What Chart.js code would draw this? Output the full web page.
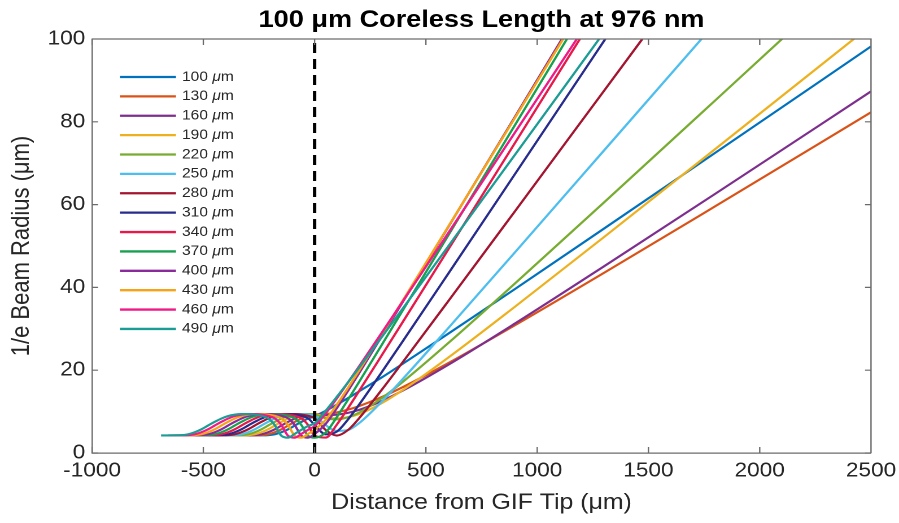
<!DOCTYPE html>
<html>
<head>
<meta charset="utf-8">
<script src="https://cdn.jsdelivr.net/npm/chart.js@4.4.1/dist/chart.umd.min.js"></script>
<style>
  html, body { margin: 0; padding: 0; background: #fff; overflow: hidden; }
  /* the original figure is stretched sideways, so stretch ours the same way */
  #wrap { width: 796px; height: 523px; transform: scaleX(1.1294); transform-origin: 0 0; }
</style>
</head>
<body>
<div id="wrap"><canvas id="beam_graph"></canvas></div>
<script>
const distances = [-690, -660, -630, -600, -570, -540, -510, -480, -450, -420, -390, -360,
  -330, -300, -270, -240, -210, -180, -150, -120, -90, -60, -30, 0,
  50, 100, 150, 200, 300, 400, 600, 900, 1300, 1800, 2500];

const sizes = ['100', '130', '160', '190', '220', '250', '280', '310', '340', '370', '400', '430', '460', '490'];

const colours = ['#0072BD', '#D95319', '#7E2F8E', '#EDB120', '#77AC30', '#4DBEEE', '#A2142F',
  '#262B8C', '#E6194B', '#18A050', '#8B2B9B', '#F6A317', '#EE1A87', '#1B9C94'];

const radius100 = [null, null, null, null, null, null, null, null, null, null, null, null, null,
  4.25, 4.25, 4.27, 4.3, 4.5, 5.0, 5.7, 6.6, 7.5, 8.3, 8.9,
  10.2, 11.7, 13.25, 14.9, 18.2, 21.7, 28.8, 39.6, 54.2, 72.5, 98.2];
const radius130 = [null, null, null, null, null, null, null, null, null, null, null, null,
  4.25, 4.25, 4.27, 4.3, 4.5, 5.0, 5.7, 6.6, 7.5, 8.3, 8.9, 9.25,
  9.4, 9.81, 10.47, 11.33, 13.48, 16.02, 21.69, 30.85, 43.5, 59.6, 82.3];
const radius160 = [null, null, null, null, null, null, null, null, null, null, null,
  4.25, 4.25, 4.27, 4.3, 4.5, 5.0, 5.7, 6.6, 7.5, 8.3, 8.9, 9.25, 9.4,
  9.16, 9.26, 9.7, 10.42, 12.52, 15.18, 21.29, 31.27, 45.08, 62.6, 87.35];
const radius190 = [null, null, null, null, null, null, null, null, null, null,
  4.25, 4.25, 4.27, 4.3, 4.5, 5.0, 5.7, 6.6, 7.5, 8.3, 8.9, 9.25, 9.4, 9.4,
  8.64, 8.37, 8.64, 9.4, 11.98, 15.35, 23.02, 35.33, 52.15, 73.41, 103.3];
const radius220 = [null, null, null, null, null, null, null, null, null,
  4.25, 4.25, 4.27, 4.3, 4.5, 5.0, 5.7, 6.6, 7.5, 8.3, 8.9, 9.25, 9.4, 9.4, 9.3,
  8.38, 8.14, 8.64, 9.76, 13.18, 17.35, 26.53, 40.94, 60.5, 85.16, 119.8];
const radius250 = [null, null, null, null, null, null, null, null,
  4.25, 4.25, 4.27, 4.3, 4.5, 5.0, 5.7, 6.6, 7.5, 8.3, 8.9, 9.25, 9.4, 9.4, 9.3, 9.0,
  6.72, 5.34, 5.55, 7.22, 12.32, 18.1, 30.13, 48.47, 73.05, 103.8, 147];
const radius280 = [null, null, null, null, null, null, null,
  4.25, 4.25, 4.27, 4.3, 4.5, 5.0, 5.7, 6.6, 7.5, 8.3, 8.9, 9.25, 9.4, 9.4, 9.3, 9.0, 8.4,
  5.55, 4.2, 5.55, 8.4, 15.15, 22.24, 36.64, 58.39, 87.46, 123.8, 174.8];
const radius310 = [null, null, null, null, null, null,
  4.25, 4.25, 4.27, 4.3, 4.5, 5.0, 5.7, 6.6, 7.5, 8.3, 8.9, 9.25, 9.4, 9.4, 9.3, 9.0, 8.4, 6.8,
  4.5, 5.17, 8.1, 11.7, 19.41, 27.31, 43.29, 67.36, 99.5, 139.7, 196];
const radius340 = [null, null, null, null, null,
  4.25, 4.25, 4.27, 4.3, 4.5, 5.0, 5.7, 6.6, 7.5, 8.3, 8.9, 9.25, 9.4, 9.4, 9.3, 9.0, 8.4, 6.8, 4.2,
  3.73, 6.87, 10.84, 14.99, 23.46, 31.99, 49.13, 74.89, 109.3, 152.2, 212.4];
const radius370 = [null, null, null, null,
  4.25, 4.25, 4.27, 4.3, 4.5, 5.0, 5.7, 6.6, 7.5, 8.3, 8.9, 9.25, 9.4, 9.4, 9.3, 9.0, 8.4, 6.8, 4.2, 3.7,
  4.97, 8.68, 12.87, 17.19, 25.97, 34.8, 52.54, 79.2, 114.8, 159.2, 221.5];
const radius400 = [null, null, null,
  4.25, 4.25, 4.27, 4.3, 4.5, 5.0, 5.7, 6.6, 7.5, 8.3, 8.9, 9.25, 9.4, 9.4, 9.3, 9.0, 8.4, 6.8, 4.2, 3.7, 4.6,
  7.05, 10.85, 15.02, 19.31, 28.04, 36.85, 54.56, 81.2, 116.8, 161.2, 223.5];
const radius430 = [null, null,
  4.25, 4.25, 4.27, 4.3, 4.5, 5.0, 5.7, 6.6, 7.5, 8.3, 8.9, 9.25, 9.4, 9.4, 9.3, 9.0, 8.4, 6.8, 4.2, 3.7, 4.6, 5.6,
  8.04, 11.69, 15.73, 19.92, 28.49, 37.17, 54.65, 80.96, 116.1, 160, 221.6];
const radius460 = [null,
  4.25, 4.25, 4.27, 4.3, 4.5, 5.0, 5.7, 6.6, 7.5, 8.3, 8.9, 9.25, 9.4, 9.4, 9.3, 9.0, 8.4, 6.8, 4.2, 3.7, 4.6, 5.6, 6.5,
  9.59, 13.21, 17.04, 20.95, 28.91, 36.94, 53.09, 77.4, 109.9, 150.4, 207.3];
const radius490 = [
  4.25, 4.25, 4.27, 4.3, 4.5, 5.0, 5.7, 6.6, 7.5, 8.3, 8.9, 9.25, 9.4, 9.4, 9.3, 9.0, 8.4, 6.8, 4.2, 3.7, 4.6, 5.6, 6.5, 7.2,
  10.22, 13.58, 17.08, 20.65, 27.89, 35.2, 49.9, 72.02, 101.6, 138.5, 190.3];

const radii = [radius100, radius130, radius160, radius190, radius220, radius250, radius280,
  radius310, radius340, radius370, radius400, radius430, radius460, radius490];

const fontFamily = "'Liberation Sans', Arial, Helvetica, sans-serif";
const axisColour = '#6b6b6b';
const textColour = '#262626';

const datasets = radii.map((ys, i) => ({
  label: sizes[i] + ' μm',
  data: distances.map((x, k) => ({x: x, y: ys[k]})).filter(p => p.y !== null),
  borderColor: colours[i],
  backgroundColor: colours[i],
  borderWidth: 2.1,
  pointRadius: 0,
  cubicInterpolationMode: 'monotone',
  order: 20 - i   // later sizes on top, like the original
}));

// GIF tip marker
datasets.push({
  label: 'tip',
  data: [{x: 0, y: 0}, {x: 0, y: 100}],
  borderColor: '#000',
  borderWidth: 3,
  borderDash: [10, 6],
  pointRadius: 0,
  order: 0
});

// box round the plot with inward ticks on all four sides
const boxTicks = {
  id: 'boxTicks',
  afterDatasetsDraw(chart) {
    const {ctx, chartArea: a, scales: {x, y}} = chart;
    ctx.save();
    ctx.strokeStyle = axisColour;
    ctx.lineWidth = 1.2;
    ctx.beginPath();
    ctx.moveTo(a.left, a.top);
    ctx.lineTo(a.right, a.top);
    ctx.lineTo(a.right, a.bottom);
    x.ticks.forEach(t => {
      const px = x.getPixelForValue(t.value);
      ctx.moveTo(px, a.bottom); ctx.lineTo(px, a.bottom - 6);
      ctx.moveTo(px, a.top); ctx.lineTo(px, a.top + 6);
    });
    y.ticks.forEach(t => {
      const py = y.getPixelForValue(t.value);
      ctx.moveTo(a.left, py); ctx.lineTo(a.left + 5.3, py);
      ctx.moveTo(a.right, py); ctx.lineTo(a.right - 5.3, py);
    });
    ctx.stroke();
    ctx.restore();
  }
};

// legend inside the plot, top left, with an italic mu
const insideLegend = {
  id: 'insideLegend',
  afterDraw(chart) {
    const {ctx, chartArea: a} = chart;
    ctx.save();
    ctx.textBaseline = 'middle';
    sizes.forEach((size, i) => {
      const yy = a.top + 38 + i * 19.38;
      ctx.strokeStyle = colours[i];
      ctx.lineWidth = 2.3;
      ctx.beginPath();
      ctx.moveTo(a.left + 24.7, yy);
      ctx.lineTo(a.left + 74.3, yy);
      ctx.stroke();
      let tx = a.left + 79.6;
      ctx.fillStyle = textColour;
      ctx.font = '13.8px ' + fontFamily;
      ctx.fillText(size + ' ', tx, yy);
      tx += ctx.measureText(size + ' ').width;
      ctx.font = 'italic 13.8px ' + fontFamily;
      ctx.fillText('μ', tx, yy);
      tx += ctx.measureText('μ').width;
      ctx.font = '13.8px ' + fontFamily;
      ctx.fillText('m', tx, yy);
    });
    ctx.restore();
  }
};

new Chart(document.getElementById('beam_graph'), {
  type: 'line',
  data: { datasets: datasets },
  options: {
    responsive: true,
    maintainAspectRatio: false,
    animation: false,
    devicePixelRatio: 2,
    layout: { padding: { left: 0, right: 24.8, top: 0, bottom: 0 } },
    plugins: {
      legend: { display: false },
      tooltip: { enabled: false },
      title: {
        display: true,
        text: '100 μm Coreless Length at 976 nm',
        fullSize: false,
        color: '#000',
        font: { family: fontFamily, size: 24, weight: 'bold', lineHeight: 1.2 },
        padding: { top: 6, bottom: 4.2 }
      }
    },
    scales: {
      x: {
        type: 'linear',
        min: -1000,
        max: 2500,
        ticks: {
          stepSize: 500,
          color: textColour,
          font: { family: fontFamily, size: 20 },
          padding: 6,
          maxRotation: 0,
          callback: v => String(v)
        },
        grid: { display: true, drawOnChartArea: false, drawTicks: false },
        border: { display: true, color: axisColour, width: 1.2 },
        title: {
          display: true,
          text: 'Distance from GIF Tip (μm)',
          color: textColour,
          font: { family: fontFamily, size: 22, lineHeight: 1.2 },
          padding: { top: 0, bottom: 6.8 }
        },
        afterFit: scale => {
          scale.height = 70;
          scale.paddingLeft = 0;
          scale.paddingRight = 0;
        }
      },
      y: {
        min: 0,
        max: 100,
        ticks: {
          stepSize: 20,
          color: textColour,
          font: { family: fontFamily, size: 20 },
          padding: 6,
          callback: v => String(v)
        },
        grid: { display: true, drawOnChartArea: false, drawTicks: false },
        border: { display: true, color: axisColour, width: 1.2 },
        title: {
          display: true,
          text: '1/e Beam Radius (μm)',
          color: textColour,
          font: { family: fontFamily, size: 22, lineHeight: 1.2 },
          padding: { top: 6.3, bottom: 0 }
        },
        afterFit: scale => { scale.width = 81.5; }
      }
    }
  },
  plugins: [boxTicks, insideLegend]
});
</script>
</body>
</html>
